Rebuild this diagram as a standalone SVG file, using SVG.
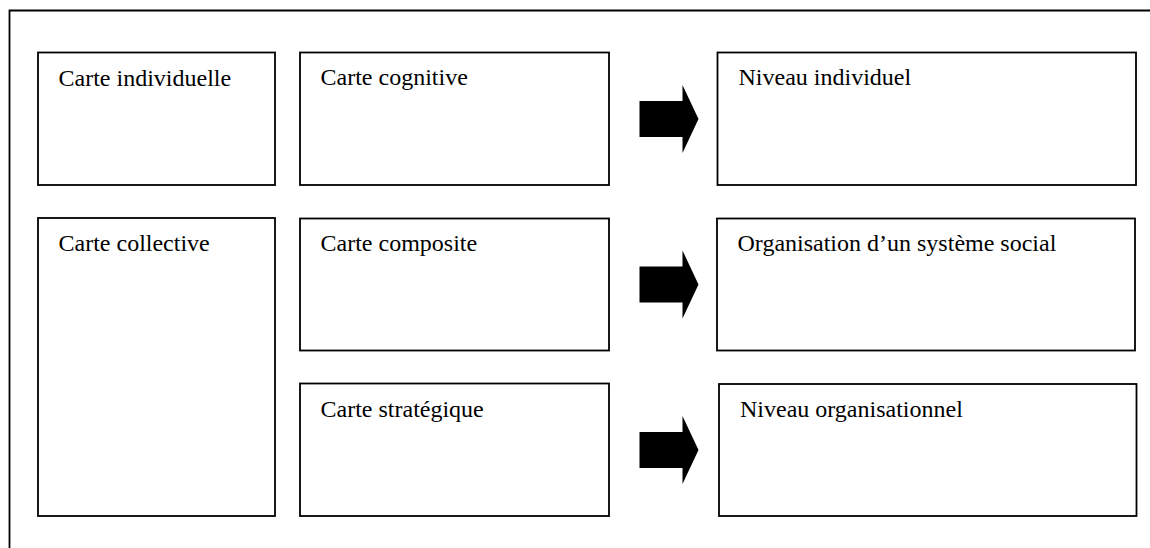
<svg xmlns="http://www.w3.org/2000/svg" width="1150" height="548" viewBox="0 0 1150 548">
  <style>
    .box { fill: #ffffff; stroke: #000000; stroke-width: 1.8; }
    .frame { fill: none; stroke: #000000; stroke-width: 1.8; }
    .label { font-size: 24px; fill: #000000; }
    .arrow { fill: #000000; stroke: none; }
  </style>
  <defs>
    <!-- block arrow pointing right: shaft 43 wide, head reaching 59 -->
    <path id="blockArrow" d="M0,16 H43 V0 L59,34 L43,68 V52 H0 Z"/>
  </defs>

  <rect width="1150" height="548" fill="#ffffff"/>

  <!-- outer frame (open on right and bottom) -->
  <path class="frame" d="M9.5,548 V10.5 H1150"/>

  <g font-family="'Liberation Serif', 'DejaVu Serif', serif">
    <g id="carte-individuelle">
      <rect class="box" x="38" y="52.5" width="237" height="132.5"/>
      <text class="label" x="58.5" y="86">Carte individuelle</text>
    </g>

    <g id="carte-cognitive">
      <rect class="box" x="300" y="52.5" width="309" height="132.5"/>
      <text class="label" x="320.5" y="85">Carte cognitive</text>
    </g>

    <g id="niveau-individuel">
      <rect class="box" x="717.5" y="52.5" width="418.5" height="132.5"/>
      <text class="label" x="738.5" y="85">Niveau individuel</text>
    </g>

    <g id="carte-collective">
      <rect class="box" x="38" y="218" width="237" height="298"/>
      <text class="label" x="58.5" y="251">Carte collective</text>
    </g>

    <g id="carte-composite">
      <rect class="box" x="300" y="218.5" width="309" height="132"/>
      <text class="label" x="320.5" y="251">Carte composite</text>
    </g>

    <g id="organisation-systeme-social">
      <rect class="box" x="717" y="218.5" width="418" height="132"/>
      <text class="label" x="737.5" y="251">Organisation d’un système social</text>
    </g>

    <g id="carte-strategique">
      <rect class="box" x="300" y="383.5" width="309" height="132.5"/>
      <text class="label" x="320.5" y="417">Carte stratégique</text>
    </g>

    <g id="niveau-organisationnel">
      <rect class="box" x="719" y="384" width="417.5" height="132"/>
      <text class="label" x="740" y="417">Niveau organisationnel</text>
    </g>
  </g>

  <g id="connectors">
    <use class="arrow" href="#blockArrow" x="639.5" y="85"/>
    <use class="arrow" href="#blockArrow" x="639.5" y="250.5"/>
    <use class="arrow" href="#blockArrow" x="639.5" y="416"/>
  </g>
</svg>
